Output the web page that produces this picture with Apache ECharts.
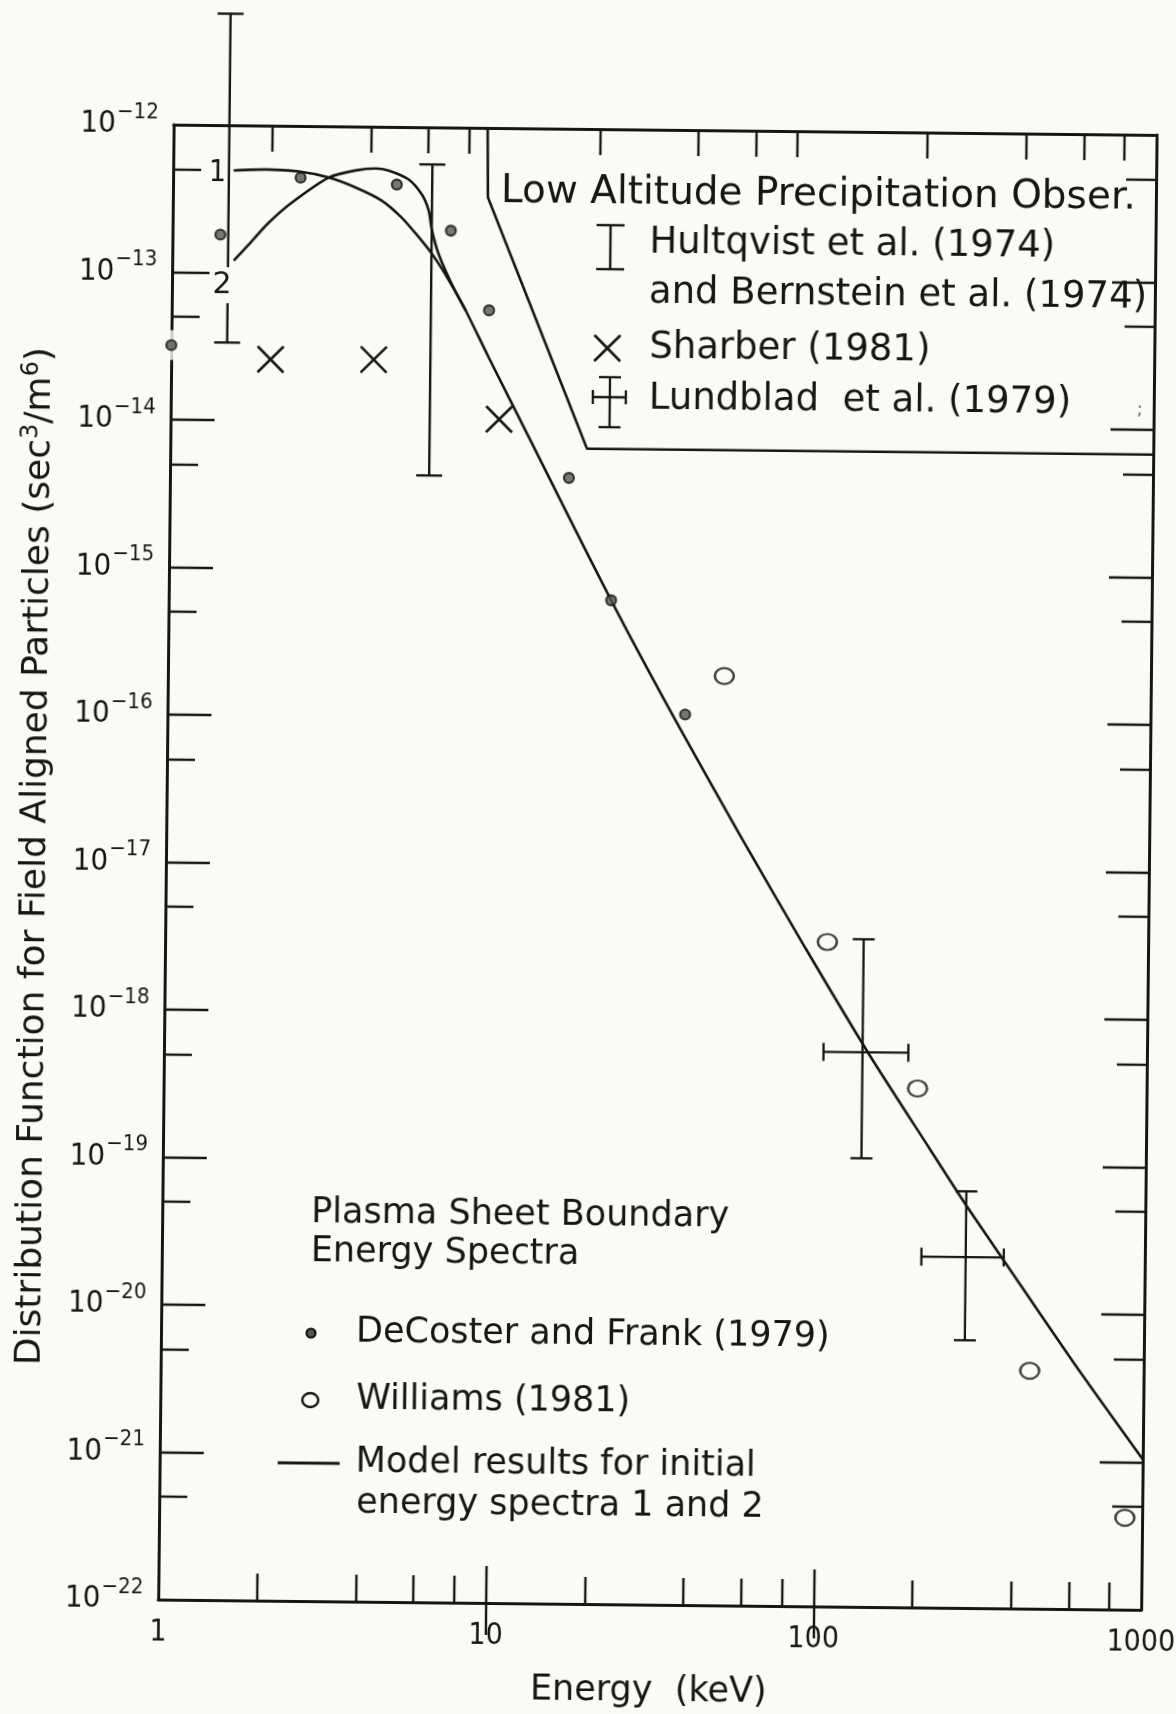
<!DOCTYPE html>
<html>
<head>
<meta charset="utf-8">
<script src="https://cdn.jsdelivr.net/npm/echarts@6.0.0/dist/echarts.min.js"></script>
<style>
html,body{margin:0;padding:0;background:#fbfbf6;overflow:hidden;width:1176px;height:1714px;}
#chart{width:1236px;height:1714px;transform:rotate(0.6deg);transform-origin:588px 857px;}
</style>
</head>
<body>
<div id="chart"></div>
<script>
// ---------------- data ----------------
const xTickLabels = [1, 10, 100, 1000];
const xMinorTicks = [2, 4, 6, 8, 20, 40, 60, 80, 200, 400, 600, 800];
const xDecadeTicks = [10, 100];
const yTickLabels = [1e-22, 1e-21, 1e-20, 1e-19, 1e-18, 1e-17, 1e-16, 1e-15, 1e-14, 1e-13, 1e-12];
const yDecadeTicks = [1e-21, 1e-20, 1e-19, 1e-18, 1e-17, 1e-16, 1e-15, 1e-14, 1e-13];
const yHalfTicks = [5e-22, 5e-21, 5e-20, 5e-19, 5e-18, 5e-17, 5e-16, 5e-15, 5e-14, 5e-13];

// model result, initial spectrum 1 (continues to 1000 keV)
const model1E = [1.53, 1.916, 2.416, 2.986, 3.61, 4.34, 5.0, 5.65, 6.15, 6.66, 7.36, 7.89, 9.31, 12.43, 16.57, 22.4, 28.8, 36.5, 56.2, 90, 142.3, 218.8, 284.9, 371, 607, 1000];
const model1F = [4.93e-13, 5.04e-13, 4.91e-13, 4.49e-13, 3.86e-13, 3.16e-13, 2.43e-13, 1.79e-13, 1.42e-13, 1.10e-13, 7.6e-14, 5.77e-14, 2.78e-14, 8.02e-15, 2.32e-15, 6.4e-16, 2.29e-16, 8.95e-17, 1.69e-17, 2.90e-18, 5.53e-19, 1.29e-19, 5.31e-20, 2.29e-20, 4.79e-21, 1.05e-21];
// model result, initial spectrum 2 (merges into spectrum 1 near 8 keV)
const model2E = [1.541, 1.71, 1.965, 2.307, 2.986, 3.61, 4.15, 4.55, 5.24, 5.75, 6.04, 6.19, 6.51, 7.15, 7.89];
const model2F = [1.21e-13, 1.56e-13, 2.20e-13, 3.02e-13, 4.49e-13, 5.04e-13, 5.21e-13, 5.06e-13, 4.41e-13, 3.5e-13, 2.73e-13, 2.0e-13, 1.37e-13, 8.63e-14, 5.77e-14];

// DeCoster and Frank (1979)
const decosterE = [1.0, 1.40, 2.45, 4.82, 7.07, 9.3, 16.5, 22.4, 38];
const decosterF = [3.2e-14, 1.81e-13, 4.46e-13, 4.07e-13, 2.0e-13, 5.8e-14, 4.3e-15, 6.4e-16, 1.09e-16];
// Williams (1981)
const williamsE = [49.9, 105, 200, 449, 886];
const williamsF = [2.0e-16, 3.2e-18, 3.3e-19, 4.1e-21, 4.2e-22];
// Sharber (1981)
const sharberE = [2.01, 4.15, 10.06];
const sharberF = [2.6e-14, 2.64e-14, 1.06e-14];
// Hultqvist et al. / Bernstein et al. (1974) ranges
const hultqvistE = [1.48, 6.18];
const hultqvistLow = [3.36e-14, 4.36e-15];
const hultqvistHigh = [5.7e-12, 5.6e-13];
// Lundblad et al. (1979)
const lundbladE = [135.5, 284];
const lundbladF = [5.75e-19, 2.39e-20];
const lundbladFLow = [1.1e-19, 6.53e-21];
const lundbladFHigh = [3.36e-18, 6.68e-20];
const lundbladELow = [103, 208];
const lundbladEHigh = [187, 371];
// outline of the "Low Altitude Precipitation" panel
const panelE = [9.09, 9.15, 18.7, 1000];
const panelF = [1e-12, 3.38e-13, 6.8e-15, 6.8e-15];

// ---------------- styling ----------------
const INK = '#161616';
const BG = '#fbfbf6';
const FONT = "'DejaVu Sans', 'Noto Sans', sans-serif";
const NARROW = "'Liberation Sans Narrow', 'DejaVu Sans Condensed', 'Liberation Sans', sans-serif";
const PANEL_FS = 37;
const LEG_FS = 35;

const zip = (a, b) => a.map((v, i) => [v, b[i]]);

const chart = echarts.init(document.getElementById('chart'), null, {renderer: 'canvas'});

// the canvas is 60px wider than the page so that the last tick label is not cut by the tilt
const GRID = {left: 166, right: 87, top: 129, bottom: 110, containLabel: false, outerBoundsMode: 'none'};

function baseX(extra) {
  return Object.assign({
    type: 'log', logBase: 10, min: 1, max: 1000, gridIndex: 0,
    splitLine: {show: false}, minorTick: {show: false}, minorSplitLine: {show: false},
    axisLine: {show: false}, axisLabel: {show: false}
  }, extra);
}
function baseY(extra) {
  return Object.assign({
    type: 'log', logBase: 10, min: 1e-22, max: 1e-12, gridIndex: 0,
    splitLine: {show: false}, minorTick: {show: false}, minorSplitLine: {show: false},
    axisLine: {show: false}, axisLabel: {show: false}
  }, extra);
}
const tickStyle = {color: INK, width: 2.4};
const txt = (text, x, y, fs, extra) => Object.assign({
  type: 'text', x: x, y: y, z: 20,
  style: {text: text, fontFamily: FONT, fontSize: fs, fill: INK, align: 'left', verticalAlign: 'middle'}
}, extra || {});
const seg = (x1, y1, x2, y2, w) => ({type: 'line', shape: {x1, y1, x2, y2}, style: {stroke: INK, lineWidth: w || 2.4}});

const option = {
  backgroundColor: BG,
  animation: false,
  grid: GRID,
  xAxis: [
    baseX({
      position: 'bottom',
      axisLine: {show: true, onZero: false, lineStyle: {color: INK, width: 3}},
      axisTick: {show: true, inside: true, length: 27, customValues: xMinorTicks, lineStyle: tickStyle},
      axisLabel: {show: true, customValues: xTickLabels, margin: 18, color: INK, hideOverlap: false,
        fontFamily: NARROW, fontSize: 30, formatter: v => String(Math.round(v))}
    }),
    baseX({position: 'bottom',
      axisTick: {show: true, inside: true, length: 37, customValues: xDecadeTicks, lineStyle: tickStyle}}),
    baseX({position: 'top',
      axisLine: {show: true, onZero: false, lineStyle: {color: INK, width: 3}},
      axisTick: {show: true, inside: true, length: 26, customValues: xMinorTicks, lineStyle: tickStyle}}),
    baseX({position: 'top',
      axisTick: {show: true, inside: true, length: 32, customValues: xDecadeTicks, lineStyle: tickStyle}})
  ],
  yAxis: [
    baseY({
      position: 'left',
      axisLine: {show: true, onZero: false, lineStyle: {color: INK, width: 3}},
      axisTick: {show: true, inside: true, length: 44, customValues: yDecadeTicks, lineStyle: tickStyle},
      axisLabel: {show: true, customValues: yTickLabels, margin: 15, color: INK,
        formatter: v => '{b|10}{s|\u2212' + Math.round(-Math.log10(v)) + '}',
        rich: {
          b: {fontFamily: NARROW, fontSize: 31, color: INK},
          s: {fontFamily: NARROW, fontSize: 22, color: INK, padding: [0, 0, 24, 1]}
        }}
    }),
    baseY({position: 'left',
      axisTick: {show: true, inside: true, length: 28, customValues: yHalfTicks, lineStyle: tickStyle}}),
    baseY({position: 'right',
      axisLine: {show: true, onZero: false, lineStyle: {color: INK, width: 3}},
      axisTick: {show: true, inside: true, length: 43, customValues: yDecadeTicks, lineStyle: tickStyle}}),
    baseY({position: 'right',
      axisTick: {show: true, inside: true, length: 30, customValues: yHalfTicks, lineStyle: tickStyle}})
  ],
  series: [
    {
      name: 'Panel outline', type: 'line', data: zip(panelE, panelF),
      symbol: 'none', clip: false, z: 3,
      lineStyle: {color: INK, width: 2.6}
    },
    {
      name: 'Model spectrum 1', type: 'line', data: zip(model1E, model1F),
      symbol: 'none', smooth: 0.25, clip: false, z: 3,
      lineStyle: {color: INK, width: 2.6}
    },
    {
      name: 'Model spectrum 2', type: 'line', data: zip(model2E, model2F),
      symbol: 'none', smooth: 0.25, clip: false, z: 3,
      lineStyle: {color: INK, width: 2.6}
    },
    {
      name: 'Hultqvist et al. (1974)', type: 'custom', clip: false, z: 4,
      data: hultqvistE.map((e, i) => [e, hultqvistLow[i], hultqvistHigh[i]]),
      encode: {x: 0, y: [1, 2]},
      renderItem: (params, api) => {
        const top = api.coord([api.value(0), api.value(2)]);
        const bot = api.coord([api.value(0), api.value(1)]);
        const w = 13;
        return {type: 'group', children: [
          seg(top[0], top[1], bot[0], bot[1]),
          seg(top[0] - w, top[1], top[0] + w, top[1]),
          seg(bot[0] - w, bot[1], bot[0] + w, bot[1])
        ]};
      }
    },
    {
      name: 'Lundblad et al. (1979)', type: 'custom', clip: false, z: 4,
      data: lundbladE.map((e, i) => [e, lundbladF[i], lundbladFLow[i], lundbladFHigh[i], lundbladELow[i], lundbladEHigh[i]]),
      encode: {x: [0, 4, 5], y: [1, 2, 3]},
      renderItem: (params, api) => {
        const top = api.coord([api.value(0), api.value(3)]);
        const bot = api.coord([api.value(0), api.value(2)]);
        const lft = api.coord([api.value(4), api.value(1)]);
        const rgt = api.coord([api.value(5), api.value(1)]);
        const w = 11, h = 9;
        return {type: 'group', children: [
          seg(top[0], top[1], bot[0], bot[1], 2.3),
          seg(top[0] - w, top[1], top[0] + w, top[1], 2.3),
          seg(bot[0] - w, bot[1], bot[0] + w, bot[1], 2.3),
          seg(lft[0], lft[1], rgt[0], rgt[1], 2.3),
          seg(lft[0], lft[1] - h, lft[0], lft[1] + h, 2.3),
          seg(rgt[0], rgt[1] - h, rgt[0], rgt[1] + h, 2.3)
        ]};
      }
    },
    {
      name: 'Sharber (1981)', type: 'custom', clip: false, z: 4,
      data: zip(sharberE, sharberF),
      encode: {x: 0, y: 1},
      renderItem: (params, api) => {
        const c = api.coord([api.value(0), api.value(1)]);
        const h = 13;
        return {type: 'group', children: [
          seg(c[0] - h, c[1] - h, c[0] + h, c[1] + h, 2.6),
          seg(c[0] - h, c[1] + h, c[0] + h, c[1] - h, 2.6)
        ]};
      }
    },
    {
      name: 'axis gap', type: 'scatter', clip: false, z: 4, silent: true,
      data: [[decosterE[0], decosterF[0]]],
      symbol: 'circle', symbolSize: 30,
      itemStyle: {color: BG, borderWidth: 0}
    },
    {
      name: 'DeCoster and Frank (1979)', type: 'scatter', clip: false, z: 5,
      data: zip(decosterE, decosterF),
      symbol: 'circle', symbolSize: 10,
      itemStyle: {color: '#555', borderColor: INK, borderWidth: 2.2}
    },
    {
      name: 'Williams (1981)', type: 'scatter', clip: false, z: 5,
      data: zip(williamsE, williamsF),
      symbol: 'circle', symbolSize: [19, 16],
      itemStyle: {color: 'rgba(0,0,0,0)', borderColor: INK, borderWidth: 2.4}
    }
  ],
  graphic: {elements: [
    // curve labels
    txt('1', 219, 177, 30, {style: {text: '1', fontFamily: NARROW, fontSize: 30, fill: INK, align: 'right', verticalAlign: 'middle'}}),
    txt('2', 216, 289, 30, {style: {text: '2', fontFamily: FONT, fontSize: 30, fill: INK, align: 'center', verticalAlign: 'middle',
      backgroundColor: BG, padding: [3, 3, 3, 3]}}),
    // upper legend panel
    txt('Low Altitude Precipitation Obser.', 494, 193, 39),
    {type: 'group', x: 604, y: 247, z: 20, children: [
      seg(0, -22, 0, 22), seg(-14, -22, 14, -22), seg(-14, 22, 14, 22)
    ]},
    txt('Hultqvist et al. (1974)', 643, 242, PANEL_FS),
    txt('and Bernstein et al. (1974)', 643, 292, PANEL_FS),
    {type: 'group', x: 602, y: 348, z: 20, children: [
      seg(-13, -13, 13, 13, 2.6), seg(-13, 13, 13, -13, 2.6)
    ]},
    txt('Sharber (1981)', 644, 347, PANEL_FS),
    {type: 'group', x: 605, y: 402, z: 20, children: [
      seg(0, -25, 0, 25, 2.3), seg(-11, -25, 11, -25, 2.3), seg(-11, 25, 11, 25, 2.3),
      seg(-17, -5, 16, -5, 2.3), seg(-17, -12, -17, 2, 2.3), seg(16, -12, 16, 2, 2.3)
    ]},
    txt('Lundblad  et al. (1979)', 644, 398, PANEL_FS),
    txt(';', 1135, 404, 18, {style: {text: ';', fontFamily: FONT, fontSize: 18, fill: '#666', align: 'center', verticalAlign: 'middle'}}),
    // lower legend
    txt('Plasma Sheet Boundary', 315, 1216, LEG_FS),
    txt('Energy Spectra', 315, 1255, LEG_FS),
    {type: 'circle', x: 316, y: 1336, z: 20, shape: {r: 4.5}, style: {fill: '#555', stroke: INK, lineWidth: 2.2}},
    txt('DeCoster and Frank (1979)', 361, 1335, LEG_FS),
    {type: 'ellipse', x: 316, y: 1403, z: 20, shape: {cx: 0, cy: 0, rx: 8, ry: 7}, style: {fill: null, stroke: INK, lineWidth: 2.4}},
    txt('Williams (1981)', 362, 1402, LEG_FS),
    Object.assign(seg(284, 1466, 346, 1466, 2.8), {z: 20}),
    txt('Model results for initial', 362, 1465, LEG_FS),
    txt('energy spectra 1 and 2', 363, 1506, LEG_FS),
    // axis titles
    {type: 'text', x: 36, y: 862, rotation: Math.PI / 2, z: 20,
      style: {text: 'Distribution Function for Field Aligned Particles (sec{sup|3}/m{sup|6})',
        fontFamily: FONT, fontSize: 36, fill: INK, align: 'center', verticalAlign: 'middle',
        rich: {sup: {fontFamily: FONT, fontSize: 24, fill: INK, padding: [0, 0, 18, 0]}}}},
    txt('Energy  (keV)', 657, 1691, 35, {style: {text: 'Energy  (keV)', fontFamily: FONT, fontSize: 35, fill: INK, align: 'center', verticalAlign: 'middle'}})
  ]}
};

chart.setOption(option);
</script>
</body>
</html>
